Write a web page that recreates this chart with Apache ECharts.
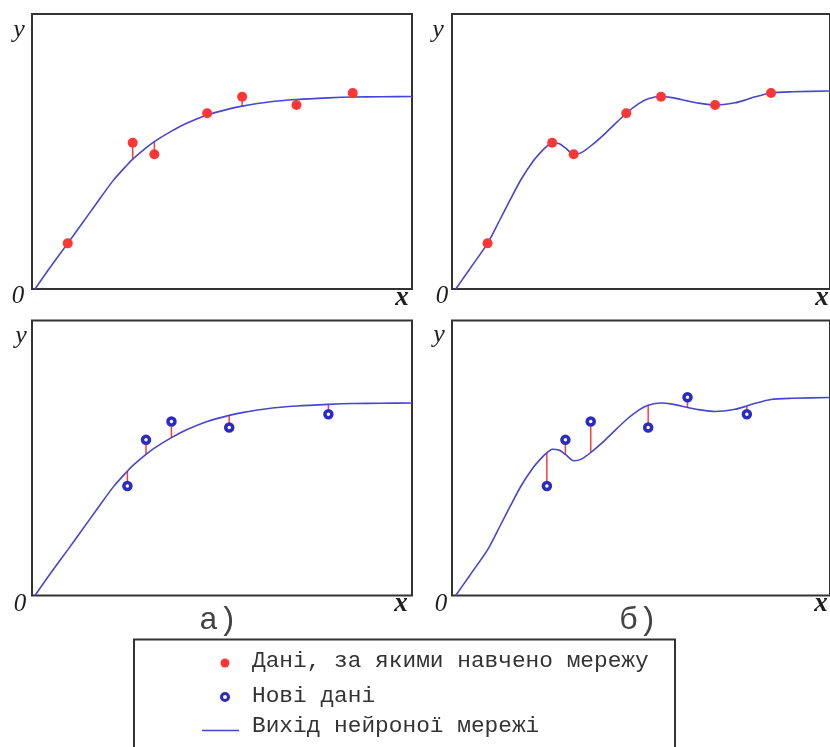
<!DOCTYPE html>
<html>
<head>
<meta charset="utf-8">
<script src="https://cdn.jsdelivr.net/npm/echarts@6/dist/echarts.min.js"></script>
<style>
  html, body { margin: 0; padding: 0; background: #fff; }
  #chart { width: 830px; height: 747px; }
</style>
</head>
<body>
<div id="chart"></div>
<script>
// Training samples (red dots)
const trainX = [0.94, 2.65, 3.22, 4.61, 5.53, 6.96, 8.44];
const trainY = [1.66, 5.32, 4.90, 6.39, 6.99, 6.69, 7.13];

// New samples (blue rings)
const newX = [2.51, 3.00, 3.67, 5.19, 6.23, 7.80];
const newY = [3.98, 5.66, 6.33, 6.11, 7.21, 6.59];
// which new samples appear on panel "а)"
const newShownA = [0, 1, 2, 3, 5];

// Network output, case а) (smooth generalisation)
const curveAX = [0.08, 0.47, 0.94, 1.26, 1.70, 2.14, 2.51, 2.65, 3.00, 3.22, 3.67, 4.07, 4.61, 5.19, 5.53, 6.23, 6.96, 7.80, 8.44, 9.20, 10.0];
const curveAY = [0.00, 0.77, 1.66, 2.27, 3.12, 3.95, 4.52, 4.72, 5.13, 5.36, 5.74, 6.03, 6.33, 6.55, 6.65, 6.80, 6.89, 6.95, 6.98, 6.99, 7.00];

// Network output, case б) (overfitted)
const curveBX = [0.10, 0.47, 0.94, 1.26, 1.53, 1.83, 2.14, 2.40, 2.51, 2.65, 2.84, 3.00, 3.22, 3.41, 3.67, 4.07, 4.61, 4.95, 5.19, 5.53, 5.82, 6.23, 6.53, 6.96, 7.49, 7.80, 8.02, 8.44, 9.00, 10.0];
const curveBY = [0.00, 0.73, 1.66, 2.50, 3.22, 3.99, 4.64, 5.05, 5.19, 5.32, 5.28, 5.13, 4.90, 4.95, 5.20, 5.68, 6.39, 6.75, 6.92, 7.00, 6.96, 6.84, 6.76, 6.69, 6.77, 6.89, 6.99, 7.13, 7.17, 7.20];

const panelLabels = ['а)', 'б)'];
const legendLabels = ['Дані, за якими навчено мережу', 'Нові дані', 'Вихід нейроної мережі'];

// network output at a sample x (every sample x is a node of the curve)
function valueAt(xs, ys, x) {
  return ys[xs.indexOf(x)];
}
function zip(xs, ys) {
  return xs.map((x, i) => [x, ys[i]]);
}

const CURVE_COLOR = '#4646d2';
const RED = '#ff3636';
const BLUE = '#2a2ac4';
const AXIS_FONT = '"Liberation Serif", "DejaVu Serif", serif';
const MONO_FONT = '"Liberation Mono", "DejaVu Sans Mono", monospace';

const panels = [
  { left: 32,  top: 14,    cx: curveAX, cy: curveAY, kind: 'train' },
  { left: 452, top: 14,    cx: curveBX, cy: curveBY, kind: 'train' },
  { left: 32,  top: 320.5, cx: curveAX, cy: curveAY, kind: 'new', pick: newShownA },
  { left: 452, top: 320.5, cx: curveBX, cy: curveBY, kind: 'new', pick: newX.map((_, i) => i) }
];

const grid = [], xAxis = [], yAxis = [], series = [];

function residualSeries(idx, data) {
  return {
    type: 'custom',
    xAxisIndex: idx, yAxisIndex: idx,
    z: 1,
    data: data,
    renderItem: function (params, api) {
      const p1 = api.coord([api.value(0), api.value(1)]);
      const p2 = api.coord([api.value(0), api.value(2)]);
      return {
        type: 'line',
        shape: { x1: p1[0], y1: p1[1], x2: p2[0], y2: p2[1] },
        style: { stroke: '#ff3c3c', lineWidth: 1.5 }
      };
    }
  };
}

panels.forEach((p, i) => {
  grid.push({
    left: p.left, top: p.top, width: 380, height: 275,
    show: true, borderColor: '#333', borderWidth: 2, backgroundColor: 'transparent'
  });
  xAxis.push({ type: 'value', gridIndex: i, min: 0, max: 10, show: false });
  yAxis.push({ type: 'value', gridIndex: i, min: 0, max: 10, show: false });

  series.push({
    type: 'line', xAxisIndex: i, yAxisIndex: i, z: 2,
    data: zip(p.cx, p.cy), smooth: 0.25,
    showSymbol: false, symbol: 'none',
    lineStyle: { color: CURVE_COLOR, width: 1.6 }
  });

  if (p.kind === 'train') {
    series.push(residualSeries(i, trainX.map((x, k) => [x, trainY[k], valueAt(p.cx, p.cy, x)])));
    series.push({
      type: 'scatter', xAxisIndex: i, yAxisIndex: i, z: 3,
      data: zip(trainX, trainY), symbol: 'circle', symbolSize: 10,
      itemStyle: { color: RED, opacity: 1 }
    });
  } else {
    series.push(residualSeries(i, p.pick.map(k => [newX[k], newY[k], valueAt(p.cx, p.cy, newX[k])])));
    series.push({
      type: 'scatter', xAxisIndex: i, yAxisIndex: i, z: 3,
      data: p.pick.map(k => [newX[k], newY[k]]), symbol: 'circle', symbolSize: 7,
      itemStyle: { color: '#fff', borderColor: BLUE, borderWidth: 3.5, opacity: 1 }
    });
  }
});

// axis letters for each panel
const axisText = [];
function italic(text, x, y, size, weight) {
  axisText.push({
    type: 'text', x: x, y: y, z: 10,
    style: {
      text: text, fill: '#1e1e1e', fontFamily: AXIS_FONT, fontStyle: 'italic',
      fontWeight: weight || 'normal',
      fontSize: size, align: 'center', verticalAlign: 'middle'
    }
  });
}
[[19, 30, 18, 296, 402, 298], [438, 30, 442, 296, 822, 298],
 [21, 336, 20, 604, 401, 604], [439, 335, 441, 604, 821, 604]].forEach(c => {
  italic('y', c[0], c[1], 26);
  italic('0', c[2], c[3], 25);
  italic('x', c[4], c[5], 27, 'bold');
});

const graphic = axisText.concat([
  { type: 'text', x: 199, y: 621, z: 10,
    style: { text: panelLabels[0], fill: '#444', fontFamily: MONO_FONT, fontSize: 32, align: 'left', verticalAlign: 'middle' } },
  { type: 'text', x: 619, y: 621, z: 10,
    style: { text: panelLabels[1], fill: '#444', fontFamily: MONO_FONT, fontSize: 32, align: 'left', verticalAlign: 'middle' } },
  // legend frame
  { type: 'rect', z: 5, shape: { x: 134, y: 639.5, width: 541, height: 130 },
    style: { fill: '#fff', stroke: '#333', lineWidth: 2 } },
  { type: 'circle', z: 6, shape: { cx: 225, cy: 663, r: 4.5 }, style: { fill: RED } },
  { type: 'circle', z: 6, shape: { cx: 225, cy: 697, r: 3.5 }, style: { fill: '#fff', stroke: BLUE, lineWidth: 3 } },
  { type: 'line', z: 6, shape: { x1: 202, y1: 730.5, x2: 239, y2: 730.5 }, style: { stroke: CURVE_COLOR, lineWidth: 1.6 } },
  { type: 'text', x: 252, y: 661, z: 6,
    style: { text: legendLabels[0], fill: '#333', fontFamily: MONO_FONT, fontSize: 22.8, align: 'left', verticalAlign: 'middle' } },
  { type: 'text', x: 252, y: 695.5, z: 6,
    style: { text: legendLabels[1], fill: '#333', fontFamily: MONO_FONT, fontSize: 22.8, align: 'left', verticalAlign: 'middle' } },
  { type: 'text', x: 252, y: 726, z: 6,
    style: { text: legendLabels[2], fill: '#333', fontFamily: MONO_FONT, fontSize: 22.8, align: 'left', verticalAlign: 'middle' } }
]);

const chart = echarts.init(document.getElementById('chart'), null, { renderer: 'canvas' });
chart.setOption({
  animation: false,
  backgroundColor: '#fff',
  grid: grid,
  xAxis: xAxis,
  yAxis: yAxis,
  series: series,
  graphic: graphic
});
</script>
</body>
</html>
